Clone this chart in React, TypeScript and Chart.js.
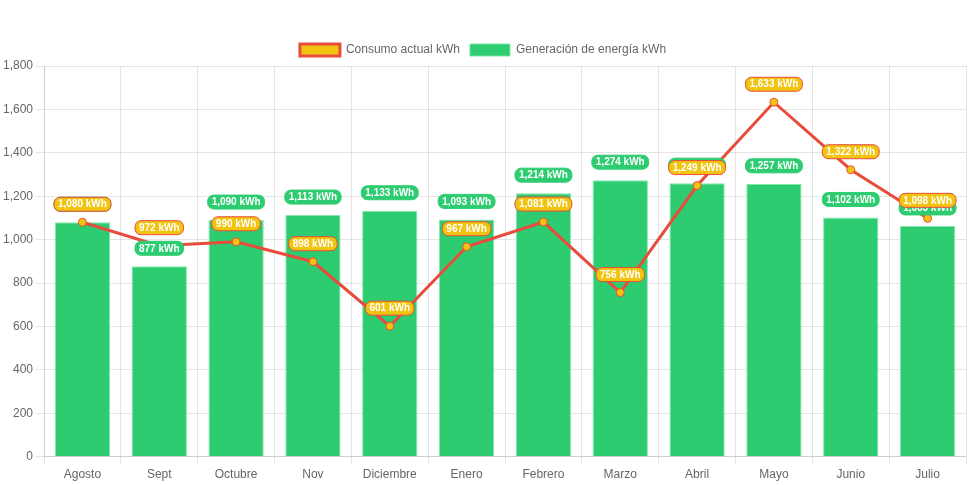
import React, { useEffect, useRef } from "react";
import { Chart, registerables } from "chart.js";

Chart.register(...registerables);

const months = ["Agosto", "Sept", "Octubre", "Nov", "Diciembre", "Enero", "Febrero", "Marzo", "Abril", "Mayo", "Junio", "Julio"];
const consumo = [1080, 972, 990, 898, 601, 967, 1081, 756, 1249, 1633, 1322, 1098];
const generacion = [1080, 877, 1090, 1113, 1133, 1093, 1214, 1274, 1260, 1257, 1102, 1063];
const yTicks = [0, 200, 400, 600, 800, 1000, 1200, 1400, 1600, 1800];

const labelPlugin = {
  id: "valueLabels",
  afterDatasetsDraw(chart: any) {
    const ctx = chart.ctx;
    const styles = [
      { bg: "#f1c40f", border: "#e74c3c" },
      { bg: "#2ecc71", border: "#2ecc71" },
    ];
    ctx.save();
    ctx.font = "bold 10px 'Liberation Sans', Arial, sans-serif";
    ctx.textAlign = "center";
    ctx.textBaseline = "middle";
    [1, 0].forEach((di) => {
      const meta = chart.getDatasetMeta(di);
      const data = chart.data.datasets[di].data as number[];
      meta.data.forEach((el: any, i: number) => {
        const text = data[i].toLocaleString("en-US") + " kWh";
        const w = ctx.measureText(text).width + 8;
        const h = 14;
        const cx = el.x;
        const cy = el.y - 18;
        const x = cx - w / 2;
        const y = cy - h / 2;
        const r = 6;
        ctx.beginPath();
        ctx.moveTo(x + r, y);
        ctx.lineTo(x + w - r, y);
        ctx.arcTo(x + w, y, x + w, y + r, r);
        ctx.lineTo(x + w, y + h - r);
        ctx.arcTo(x + w, y + h, x + w - r, y + h, r);
        ctx.lineTo(x + r, y + h);
        ctx.arcTo(x, y + h, x, y + h - r, r);
        ctx.lineTo(x, y + r);
        ctx.arcTo(x, y, x + r, y, r);
        ctx.closePath();
        ctx.fillStyle = styles[di].bg;
        ctx.fill();
        ctx.lineWidth = 1;
        ctx.strokeStyle = styles[di].border;
        ctx.stroke();
        ctx.fillStyle = "#ffffff";
        ctx.fillText(text, cx, cy + 0.5);
      });
    });
    ctx.restore();
  },
};

export default function App() {
  const ref = useRef<HTMLCanvasElement>(null);
  useEffect(() => {
    document.body.style.margin = "0";
    Chart.defaults.font.family = "'Liberation Sans', Arial, sans-serif";
    Chart.defaults.color = "#666";
    const chart = new Chart(ref.current as HTMLCanvasElement, {
      type: "bar",
      data: {
        labels: months,
        datasets: [
          {
            type: "line",
            label: "Consumo actual kWh",
            data: consumo,
            borderColor: "#e74c3c",
            backgroundColor: "#f1c40f",
            borderWidth: 3,
            pointRadius: 4,
            pointBackgroundColor: "#f1c40f",
            pointBorderColor: "#e74c3c",
            pointBorderWidth: 1,
            tension: 0,
          } as any,
          {
            type: "bar",
            label: "Generación de energía kWh",
            data: generacion,
            backgroundColor: "#2ecc71",
            borderColor: "rgba(120,230,160,0.9)",
            borderWidth: 1,
          },
        ],
      },
      options: {
        animation: false,
        responsive: true,
        maintainAspectRatio: false,
        layout: { padding: { top: 34, right: 5, left: 0, bottom: 0 } },
        plugins: {
          legend: {
            labels: { font: { size: 12 }, boxWidth: 40, boxHeight: 12 },
          },
          tooltip: { enabled: false },
        },
        scales: {
          x: {
            offset: true,
            grid: { color: "rgba(0,0,0,0.1)", offset: true },
            ticks: { font: { size: 12 } },
          },
          y: {
            min: 0,
            max: 1800,
            afterBuildTicks: (axis: any) => {
              axis.ticks = yTicks.map((v) => ({ value: v }));
            },
            ticks: { font: { size: 12 } },
            grid: { color: "rgba(0,0,0,0.1)" },
          },
        },
      },
      plugins: [labelPlugin],
    });
    return () => chart.destroy();
  }, []);
  return (
    <div style={{ width: "100%", height: 485 }}>
      <canvas ref={ref} />
    </div>
  );
}
